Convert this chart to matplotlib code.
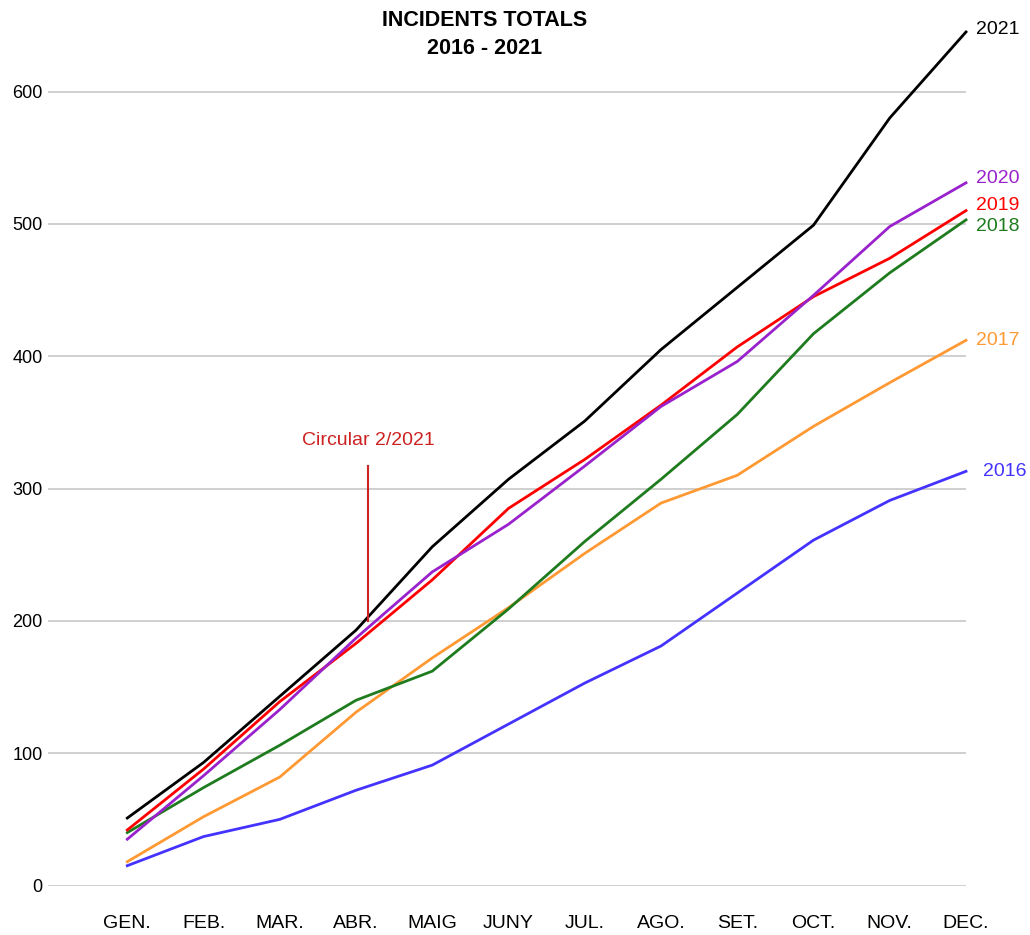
import matplotlib.pyplot as plt
import numpy as np

plt.rcParams['font.family'] = ['Liberation Sans', 'DejaVu Sans']

months = ['GEN.', 'FEB.', 'MAR.', 'ABR.', 'MAIG', 'JUNY', 'JUL.', 'AGO.', 'SET.', 'OCT.', 'NOV.', 'DEC.']
y2016 = [15, 37, 50, 72, 91, 122, 153, 181, 221, 261, 291, 313]
y2017 = [18, 52, 82, 131, 172, 210, 251, 289, 310, 347, 380, 412]
y2018 = [40, 74, 106, 140, 162, 209, 260, 307, 356, 417, 463, 503]
y2019 = [42, 88, 139, 183, 231, 285, 322, 363, 407, 445, 474, 510]
y2020 = [35, 83, 133, 187, 237, 273, 317, 362, 396, 446, 498, 531]
y2021 = [51, 93, 143, 193, 256, 307, 351, 405, 452, 499, 580, 645]
yticks = [0, 100, 200, 300, 400, 500, 600]

series = [
    ('2016', y2016, '#4433ff'),
    ('2017', y2017, '#ff9933'),
    ('2018', y2018, '#1e7b1e'),
    ('2019', y2019, '#ff0000'),
    ('2020', y2020, '#9922cc'),
    ('2021', y2021, '#000000'),
]
# label offsets in data units (to avoid overlap)
label_dy = {'2016': 0, '2017': 0, '2018': -5, '2019': 4, '2020': 3, '2021': 2}
label_dx = {'2016': 0.22, '2017': 0.13, '2018': 0.13, '2019': 0.13, '2020': 0.13, '2021': 0.13}

x = np.arange(len(months))

fig = plt.figure(figsize=(10.3, 9.35), dpi=100)
ax = fig.add_axes([48 / 1030, 0.0529, (966 - 48) / 1030, 0.92])

for name, vals, col in series:
    ax.plot(x, vals, color=col, linewidth=2.0, clip_on=False, zorder=3)
    ax.text(x[-1] + label_dx[name], vals[-1] + label_dy[name], name, color=col,
            fontsize=14, va='center', ha='left')

ax.set_xlim(-1.04, 11)
ax.set_ylim(0, 650)
ax.set_yticks(yticks)
ax.set_xticks(x)
ax.set_xticklabels(months, fontsize=14)
ax.tick_params(axis='y', labelsize=13, length=0, pad=4)
ax.tick_params(axis='x', length=0, pad=21)
ax.grid(axis='y', color='#cccccc', linewidth=1.3)
ax.set_axisbelow(True)
for s in ax.spines.values():
    s.set_visible(False)

# annotation
ax.plot([3.16, 3.16], [200, 317], color='#cc2222', linewidth=1.5, zorder=4)
ax.text(3.16, 336, 'Circular 2/2021', color='#cc2222', fontsize=14, ha='center', va='center')

fig.text(485 / 1030, 1 - 20 / 935, 'INCIDENTS TOTALS', fontsize=15.5, fontweight='bold', ha='center', va='center')
fig.text(485 / 1030, 1 - 48 / 935, '2016 - 2021', fontsize=15.5, fontweight='bold', ha='center', va='center')

plt.savefig('out.png', dpi=100)
